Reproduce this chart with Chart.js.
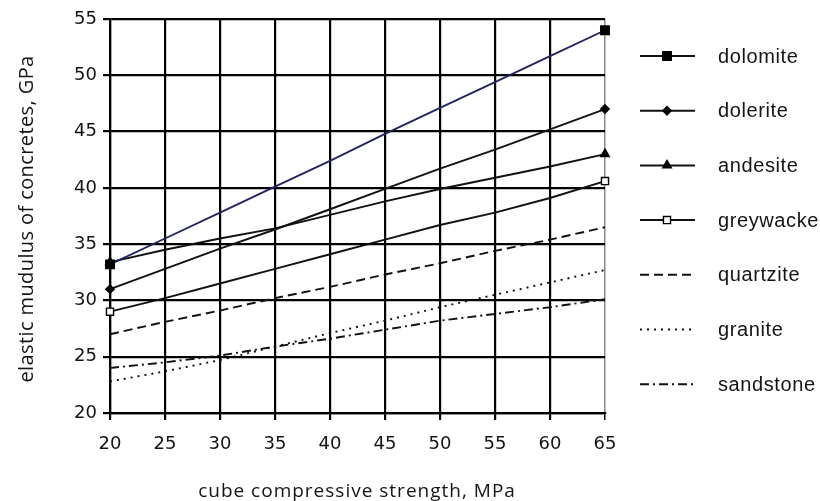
<!DOCTYPE html>
<html>
<head>
<meta charset="utf-8">
<title>Elastic modulus of concretes</title>
<script src="https://cdn.jsdelivr.net/npm/chart.js@4.4.1/dist/chart.umd.min.js"></script>
<style>
    body { margin: 0; background: #fff; }
    #chart-box { width: 820px; height: 501px; }
</style>
</head>
<body>
<div id="chart-box"><canvas id="modulus-chart" width="820" height="501"></canvas></div>
<script>
// Data (GPa against cube strength in MPa)
const strengths = [20, 25, 30, 35, 40, 45, 50, 55, 60, 65];
const dolomite  = [33.2, 35.5, 37.8, 40.1, 42.4, 44.8, 47.1, 49.4, 51.7, 54.0];
const dolerite  = [31.0, 32.8, 34.6, 36.3, 38.1, 39.9, 41.7, 43.4, 45.2, 47.0];
const andesite  = [33.4, 34.5, 35.5, 36.4, 37.6, 38.8, 39.9, 40.9, 41.9, 43.0];
const greywacke = [29.0, 30.2, 31.5, 32.8, 34.1, 35.4, 36.7, 37.8, 39.1, 40.6];
const quartzite = [27.0, 28.1, 29.1, 30.2, 31.2, 32.3, 33.3, 34.4, 35.4, 36.5];
const granite   = [22.8, 23.7, 24.7, 25.9, 27.1, 28.2, 29.4, 30.5, 31.6, 32.7];
const sandstone = [24.0, 24.5, 25.1, 25.9, 26.6, 27.4, 28.2, 28.8, 29.4, 30.1];

const seriesNames = ['dolomite', 'dolerite', 'andesite', 'greywacke', 'quartzite', 'granite', 'sandstone'];
const seriesValues = [dolomite, dolerite, andesite, greywacke, quartzite, granite, sandstone];

const xTicks = { min: 20, max: 65, step: 5 };
const yTicks = { min: 20, max: 55, step: 5 };

const xTitle = 'cube compressive strength, MPa';
const yTitle = 'elastic mudulus of concretes, GPa';

document.addEventListener('DOMContentLoaded', function () {
    // Line / marker look for each rock type
    const looks = [
        { color: '#24245e', dash: [], point: 'rect', radius: 6, fill: '#000' },
        { color: '#111', dash: [], point: 'rectRot', radius: 4.2, fill: '#000' },
        { color: '#111', dash: [], point: 'triangle', radius: 5, fill: '#000' },
        { color: '#111', dash: [], point: 'rect', radius: 5, fill: '#fff' },
        { color: '#111', dash: [9, 5], point: false, radius: 0, fill: '#000' },
        { color: '#111', dash: [2, 5], point: false, radius: 0, fill: '#000' },
        { color: '#111', dash: [9, 4, 2, 4], point: false, radius: 0, fill: '#000' }
    ];
    const last = strengths.length - 1;

    const datasets = seriesNames.map(function (name, i) {
        const look = looks[i];
        return {
            label: name,
            data: strengths.map((x, j) => ({ x: x, y: seriesValues[i][j] })),
            borderColor: look.color,
            borderWidth: 1.9,
            borderDash: look.dash,
            tension: 0,
            clip: false,
            pointStyle: look.point || 'circle',
            pointRadius: c => (look.point && (c.dataIndex === 0 || c.dataIndex === last)) ? look.radius : 0,
            pointBackgroundColor: look.fill,
            pointBorderColor: '#000',
            pointBorderWidth: 1.4
        };
    });

    // Axis titles and the side legend, drawn as canvas text
    const decorations = {
        id: 'decorations',
        afterDraw(chart) {
            const ctx = chart.ctx;
            ctx.save();
            ctx.fillStyle = '#141414';

            ctx.font = '19px "Open Sans"';
            ctx.letterSpacing = '1px';
            ctx.textAlign = 'center';
            ctx.textBaseline = 'alphabetic';
            ctx.fillText(xTitle, 357, 497);

            ctx.save();
            ctx.translate(33, 219);
            ctx.rotate(-Math.PI / 2);
            ctx.font = '20px "Open Sans"';
            ctx.letterSpacing = '0.4px';
            ctx.fillText(yTitle, 0, 0);
            ctx.restore();

            ctx.font = '20px "Liberation Sans"';
            ctx.letterSpacing = '0.6px';
            ctx.textAlign = 'left';
            chart.data.datasets.forEach(function (ds, i) {
                const y = 56 + i * 54.7;
                const look = looks[i];
                ctx.save();
                ctx.strokeStyle = '#111';
                ctx.lineWidth = 2;
                ctx.setLineDash(ds.borderDash);
                ctx.beginPath();
                ctx.moveTo(640, y);
                ctx.lineTo(695, y);
                ctx.stroke();
                ctx.restore();
                if (look.point) {
                    ctx.save();
                    ctx.fillStyle = look.fill;
                    ctx.strokeStyle = '#000';
                    ctx.lineWidth = 1.4;
                    Chart.helpers.drawPoint(ctx, {
                        pointStyle: look.point, radius: look.radius, rotation: 0, borderWidth: 1.4
                    }, 667, y);
                    ctx.restore();
                }
                ctx.fillText(ds.label, 718, y + 6.5);
            });
            ctx.restore();
        }
    };

    const ctx = document.getElementById('modulus-chart').getContext('2d');
    new Chart(ctx, {
        type: 'line',
        data: { datasets: datasets },
        options: {
            responsive: false,
            animation: false,
            layout: { padding: { left: 0, top: 19, right: 215, bottom: 0 } },
            plugins: {
                legend: { display: false },
                tooltip: { enabled: false }
            },
            scales: {
                x: {
                    type: 'linear',
                    min: xTicks.min,
                    max: xTicks.max,
                    afterFit: scale => { scale.height = 88; },
                    ticks: {
                        stepSize: xTicks.step,
                        padding: 14,
                        color: '#141414',
                        font: { family: 'DejaVu Sans', size: 18 }
                    },
                    grid: {
                        color: c => (c.tick && c.tick.value === xTicks.max) ? '#8a8a8a' : '#000',
                        lineWidth: c => (c.tick && c.tick.value === xTicks.max) ? 1.5 : 2.2,
                        tickColor: '#000',
                        tickLength: 7
                    },
                    border: { color: '#000', width: 2.2 }
                },
                y: {
                    type: 'linear',
                    min: yTicks.min,
                    max: yTicks.max,
                    afterFit: scale => { scale.width = 110; },
                    ticks: {
                        stepSize: yTicks.step,
                        padding: 6,
                        color: '#141414',
                        font: { family: 'DejaVu Sans', size: 18 }
                    },
                    grid: {
                        color: '#000',
                        lineWidth: 2.2,
                        tickColor: '#000',
                        tickLength: 7
                    },
                    border: { color: '#000', width: 2.2 }
                }
            }
        },
        plugins: [decorations]
    });
});
</script>
</body>
</html>
